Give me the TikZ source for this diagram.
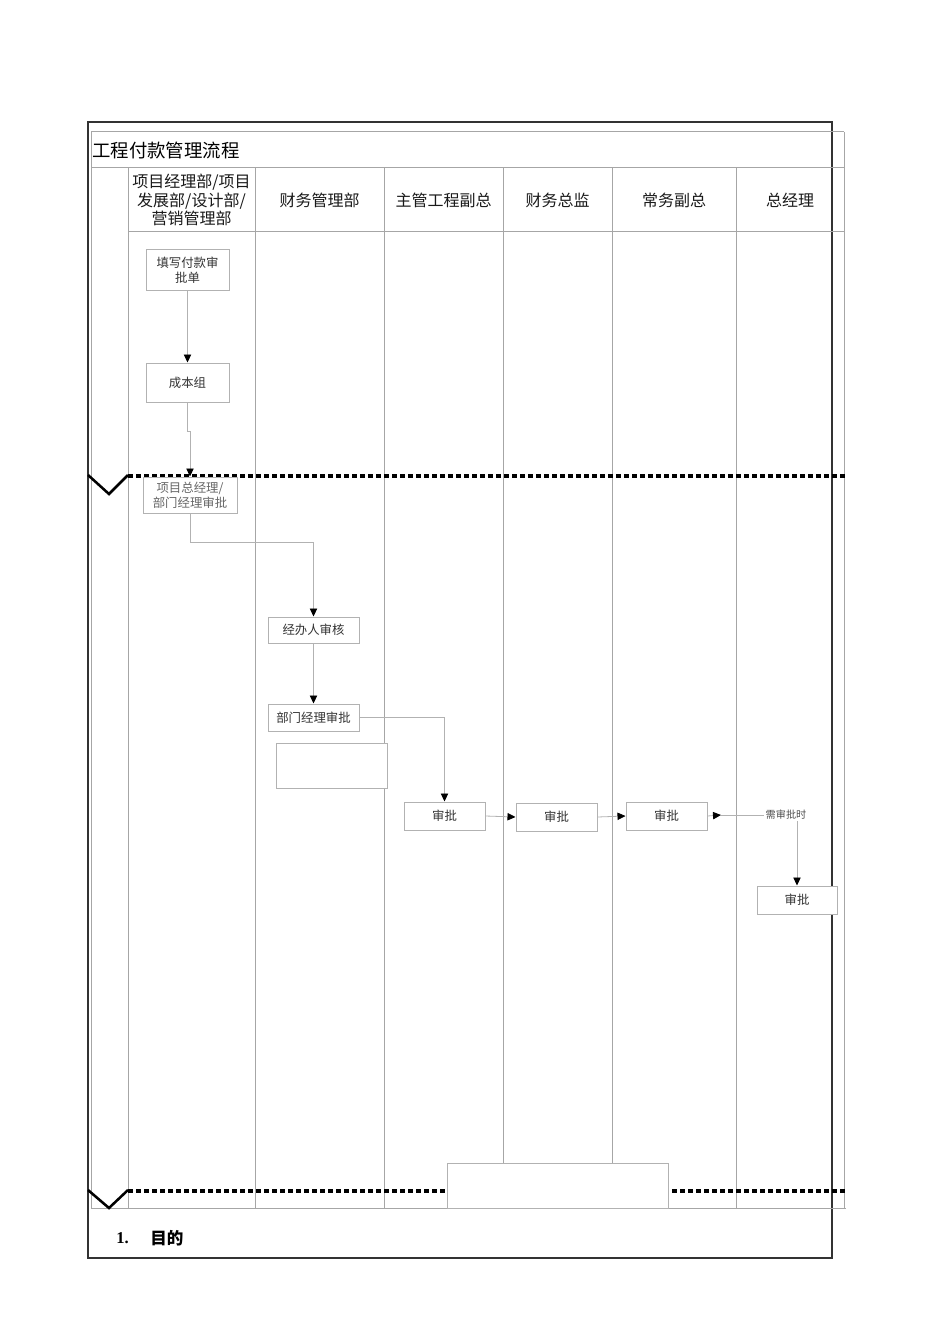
\documentclass[tikz,border=0pt]{standalone}
\usepackage{fontspec}
\newfontfamily\cjk{Noto Sans CJK SC}
\newfontfamily\numfont{Liberation Serif}
\usetikzlibrary{arrows.meta}
\tikzset{
  tline/.style={draw=black!35, line width=0.75pt},
  frame/.style={draw=black!80, line width=0.9pt},
  wh/.style 2 args={minimum width=#1*0.75pt, minimum height=#2*0.75pt},
  box/.style={draw=black!30, fill=white, line width=0.75pt, inner sep=0pt, align=center,
              font=\cjk\fontsize{9.3}{11.25}\selectfont, text=black!80},
  conn/.style={draw=black!30, line width=0.6pt, -{Triangle[length=6pt,width=5.5pt,color=black]}},
  plain/.style={draw=black!30, line width=0.6pt},
  sepline/.style={line width=2.6pt, dash pattern=on 3.4pt off 2.6pt, black},
  vmark/.style={line width=1.9pt, black},
  hdr/.style={font=\cjk\fontsize{12}{13.9}\selectfont, align=center, inner sep=0pt, text=black!90},
}
\begin{document}
\begin{tikzpicture}[x=0.75pt,y=-0.75pt]
\useasboundingbox (0,0) rectangle (950,1344);
% outer frame
\draw[frame] (88,122) rectangle (832,1258);
% inner table
\draw[tline] (91,132) -- (844,132);
\draw[tline] (91,132) -- (91,1208);
\draw[tline] (844,132) -- (844,1208);
\draw[tline] (91,168) -- (844,168);
\draw[tline] (128,232) -- (844,232);
\draw[tline] (91,1208) -- (846,1208);
\foreach \cx in {128,255,384,503,612,736} \draw[tline] (\cx,168) -- (\cx,1208);
% title and headers
\node[anchor=west, inner sep=0pt, font=\cjk\fontsize{13.8}{16}\selectfont] (title) at (92,150) {工程付款管理流程};
\node[hdr] (h1) at (191.5,200) {项目经理部/项目\\发展部/设计部/\\营销管理部};
\node[hdr] (h2) at (319.5,200) {财务管理部};
\node[hdr] (h3) at (443.5,200) {主管工程副总};
\node[hdr] (h4) at (557.5,200) {财务总监};
\node[hdr] (h5) at (674,200) {常务副总};
\node[hdr] (h6) at (790,200) {总经理};
% separators
\draw[sepline] (128,476) -- (846,476);
\draw[sepline] (128,1191) -- (846,1191);
\draw[vmark] (88,475) -- (109,494) -- (128,475);
\draw[vmark] (88,1190) -- (109,1208) -- (128,1190);
% process boxes
\node[box, wh={83}{41}] (n1) at (187.5,270.5) {填写付款审\\批单};
\node[box, wh={83}{39}] (n2) at (187.5,382.5) {成本组};
\node[box, wh={94}{36}, text=black!60] (n3) at (190,495) {项目总经理/\\部门经理审批};
\node[box, wh={91}{26}] (n4) at (313.5,630) {经办人审核};
\node[box, wh={91}{27}] (n5) at (313.5,717.5) {部门经理审批};
\node[box, wh={111}{45}] (e1) at (331.5,765.5) {};
\node[box, wh={81}{28}] (n6) at (444.5,816) {审批};
\node[box, wh={81}{28}] (n7) at (556.5,817) {审批};
\node[box, wh={81}{28}] (n8) at (666.5,816) {审批};
\node[inner sep=1pt, font=\cjk\fontsize{7.6}{9}\selectfont, text=black!70, fill=white] (lbl) at (786,815) {需审批时};
\node[box, wh={80}{28}] (n9) at (797,900) {审批};
\node[box, wh={221}{45}] (e2) at (557.5,1185.5) {};
% connectors
\draw[conn] (n1.south) -- (n2.north);
\draw[conn] (n2.south) -- ++(0,29) -| (n3.north);
\draw[conn] (n3.south) -- ++(0,29) -| (n4.north);
\draw[conn] (n4.south) -- (n5.north);
\draw[conn] (n5.east) -| (n6.north);
\draw[conn] (n6.east) -- (n7.west);
\draw[conn] (n7.east) -- (n8.west);
\coordinate (tipA) at (721,815);
\draw[conn] (n8.east) -- (tipA);
\draw[plain] (tipA) -- (lbl.west);
\draw[conn] (n9.north |- lbl.south) -- (n9.north);
% bottom row
\node[anchor=west, inner sep=0pt, font=\numfont\bfseries\fontsize{12.4}{14}\selectfont] (num) at (116,1238) {1.};
\node[anchor=west, inner sep=0pt, font=\cjk\bfseries\fontsize{12.4}{14}\selectfont] (goal) at (150,1238) {目的};
\end{tikzpicture}
\end{document}
